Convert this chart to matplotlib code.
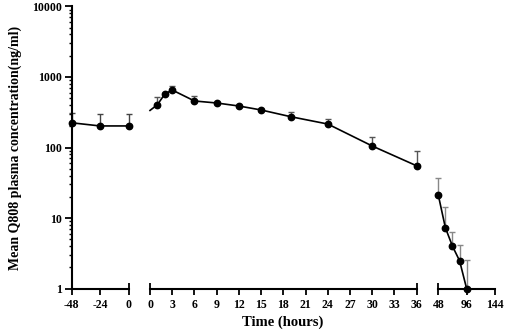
import matplotlib
matplotlib.use("Agg")
import matplotlib.pyplot as plt
import numpy as np

plt.rcParams['font.family'] = ['Liberation Serif', 'DejaVu Serif']
plt.rcParams['font.weight'] = 'bold'

# Pre-dose segment
t_pre = [-48, -24, 0]
c_pre = [224, 202, 202]
e_pre = [311, 295, 295]          # upper error bar tops

# Main segment (first entry: line start, no marker)
t_main = [0, 1, 2, 3, 6, 9, 12, 15, 19, 24, 30, 36]
c_main = [335, 404, 572, 652, 456, 427, 387, 340, 273, 215, 105, 55]
e_main = [335, 525, 600, 740, 535, 440, 398, 352, 315, 253, 142, 90]

# Terminal segment
t_term = [48, 60, 72, 84, 96]
c_term = [21.2, 7.3, 4.0, 2.49, 1.0]
e_term = [37, 14.5, 6.4, 4.2, 2.55]

xt_pre = [-48, -24, 0]
xt_main = [0, 3, 6, 9, 12, 15, 18, 21, 24, 27, 30, 33, 36]
xt_term = [48, 96, 144]

W, H = 505, 333
fig = plt.figure(figsize=(W/100, H/100), dpi=100)
bottom = 1 - 288.7/H
height = (288.7 - 6.3)/H
ax1 = fig.add_axes([71.5/W, bottom, (128.5-71.5)/W, height])
ax2 = fig.add_axes([150/W, bottom, (416.7-150)/W, height])
ax3 = fig.add_axes([438.3/W, bottom, (495-438.3)/W, height])

lw_sp = 1.5
for ax in (ax1, ax2, ax3):
    ax.set_yscale('log')
    ax.set_ylim(1, 10000)
    for s in ('top', 'right'):
        ax.spines[s].set_visible(False)
    ax.spines['bottom'].set_linewidth(lw_sp)
    ax.spines['left'].set_linewidth(lw_sp)
    ax.patch.set_alpha(0)
for ax in (ax2, ax3):
    ax.spines['left'].set_visible(False)
    ax.tick_params(axis='y', which='both', left=False, labelleft=False)

def series(ax, t, c, e, ecol, skip_first=False):
    t = np.asarray(t, float); c = np.asarray(c, float); e = np.asarray(e, float)
    ax.plot(t, c, color='black', lw=1.2, zorder=3, clip_on=False)
    s = 1 if skip_first else 0
    ax.errorbar(t[s:], c[s:], yerr=[np.zeros(len(c)-s), e[s:]-c[s:]], fmt='none',
                ecolor=ecol, elinewidth=1.0, capsize=2.5, capthick=1.0, zorder=2, clip_on=False)
    ax.plot(t[s:], c[s:], 'o', color='black', ms=4.6, zorder=4, clip_on=False)

series(ax1, t_pre, c_pre, e_pre, '#444444')
series(ax2, t_main, c_main, e_main, '#555555', skip_first=True)
series(ax3, t_term, c_term, e_term, '#888888')

def set_x(ax, lim, ticks, inout):
    ax.set_xlim(*lim)
    major = [v for v in ticks if v not in inout]
    ax.set_xticks(major)
    ax.set_xticklabels([str(v) for v in major])
    ax.set_xticks(inout, minor=True)
    ax.set_xticklabels([str(v) for v in inout], minor=True)
    ax.tick_params(axis='x', which='major', direction='out', length=4.5, width=1.3,
                   labelsize=8.5, pad=3)
    ax.tick_params(axis='x', which='minor', direction='inout', length=9, width=1.3,
                   labelsize=8.5, pad=3)
    for lab in ax.get_xticklabels(which='both'):
        lab.set_fontweight('bold')

set_x(ax1, (-48, 0), xt_pre, [0])
set_x(ax2, (0, 36), xt_main, [0, 36])
set_x(ax3, (48, 144), xt_term, [48])

ax1.tick_params(axis='y', which='major', direction='out', length=5, width=1.3, labelsize=8.5, pad=2)
ax1.tick_params(axis='y', which='minor', direction='out', length=2.5, width=1.0)
ax1.set_yticks([1, 10, 100, 1000, 10000])
ax1.set_yticklabels(['1', '10', '100', '1000', '10000'])
for lab in ax1.get_yticklabels():
    lab.set_fontweight('bold')

ax1.set_ylabel('Mean Q808 plasma concentration(ng/ml)', fontsize=10, fontweight='bold', labelpad=7)
fig.text(283/W, 1 - 322/H, 'Time (hours)', ha='center', va='center', fontsize=10.5, fontweight='bold')

fig.savefig('out.png', dpi=100)
